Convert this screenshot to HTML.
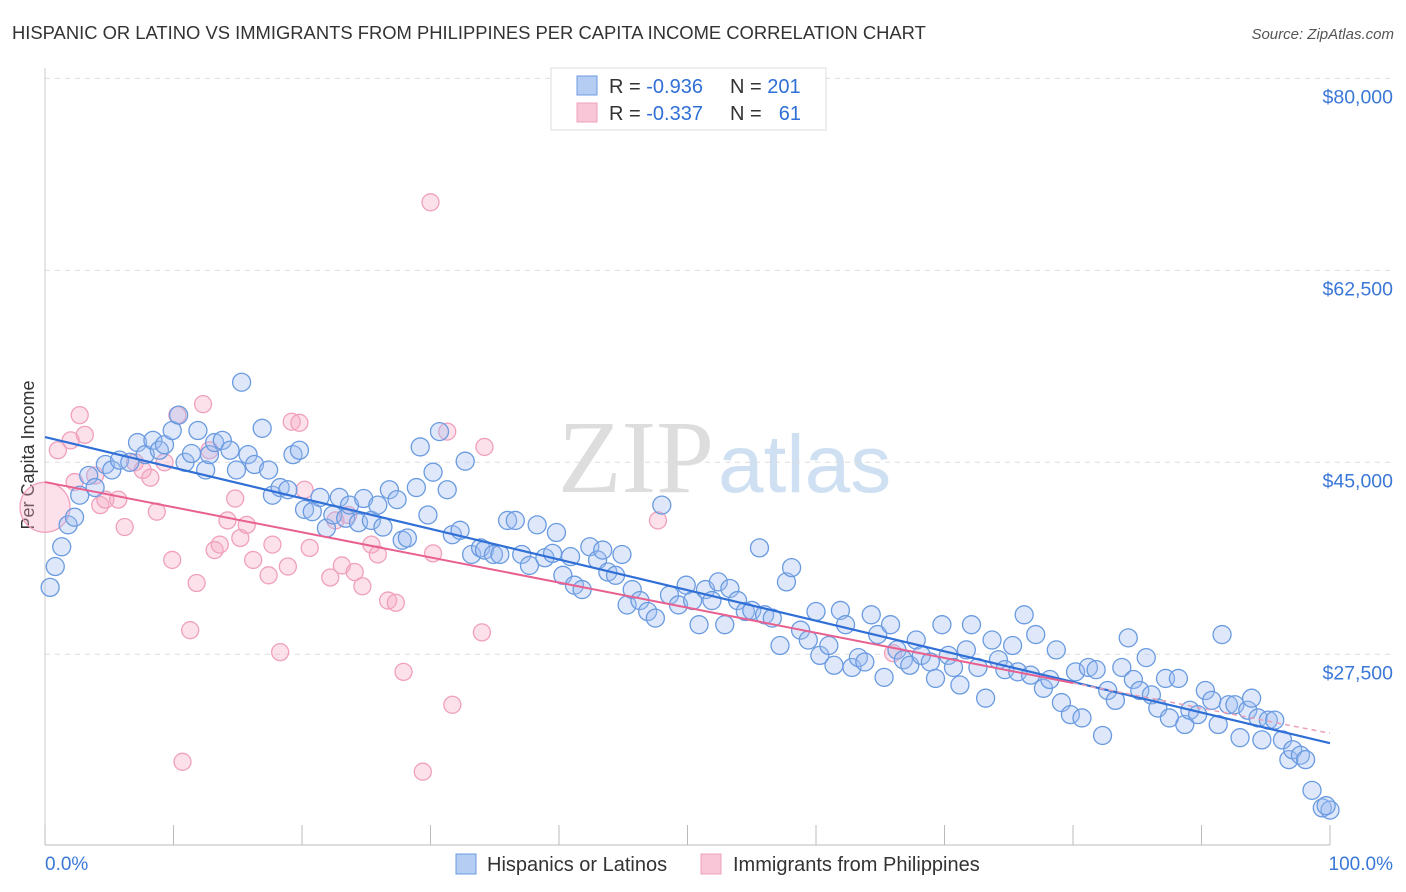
<!DOCTYPE html>
<html><head><meta charset="utf-8"><style>
body{margin:0;background:#fff;font-family:"Liberation Sans",sans-serif;}
#wrap{position:relative;width:1406px;height:892px;overflow:hidden}
</style></head><body><div id="wrap">
<svg id="svg" width="1406" height="892" xmlns="http://www.w3.org/2000/svg">
<text x="12" y="39" font-size="18.4" fill="#333">HISPANIC OR LATINO VS IMMIGRANTS FROM PHILIPPINES PER CAPITA INCOME CORRELATION CHART</text>
<text x="1394" y="39" font-size="15" fill="#555" font-style="italic" text-anchor="end">Source: ZipAtlas.com</text>
<text x="34" y="455" font-size="18" fill="#333" text-anchor="middle" transform="rotate(-90 34 455)">Per Capita Income</text>
<text x="714" y="492" font-size="104" fill="#ddd" text-anchor="end" font-family="Liberation Serif,serif">ZIP</text>
<text x="718" y="492" font-size="82" fill="#cfe0f3">atlas</text>
<g id="grid"></g><g id="axes"></g><g id="pts"></g><g id="lines"></g>
<g>
<rect x="551" y="68" width="275" height="62" fill="#fff" stroke="#ddd"/>
<rect x="577" y="76" width="20" height="19" fill="#b5cdf3" stroke="#6a9be0"/>
<rect x="577" y="103" width="20" height="19" fill="#f8c6d6" stroke="#f0a0bd"/>
<text x="609" y="93" font-size="20" fill="#333">R = <tspan fill="#2f6fd6">-0.936</tspan></text>
<text x="730" y="93" font-size="20" fill="#333">N = <tspan fill="#2f6fd6">201</tspan></text>
<text x="609" y="120" font-size="20" fill="#333">R = <tspan fill="#2f6fd6">-0.337</tspan></text>
<text x="730" y="120" font-size="20" fill="#333">N =</text>
<text x="801" y="120" font-size="20" fill="#2f6fd6" text-anchor="end">61</text>
</g>
<text x="45" y="870" font-size="19" fill="#3a78d8">0.0%</text>
<text x="1393" y="870" font-size="19" fill="#3a78d8" text-anchor="end">100.0%</text>
<g>
<rect x="456" y="854" width="20" height="20" fill="#b5cdf3" stroke="#6a9be0"/>
<text x="487" y="871" font-size="20" fill="#333">Hispanics or Latinos</text>
<rect x="701" y="854" width="20" height="20" fill="#f8c6d6" stroke="#f0a0bd"/>
<text x="733" y="871" font-size="20" fill="#333">Immigrants from Philippines</text>
</g>
</svg></div>
<script>
const yTicks=[80000,62500,45000,27500];
const yTickLabels=["$80,000","$62,500","$45,000","$27,500"];
const blueX=[0.4,0.8,1.3,1.8,2.3,2.7,3.4,3.9,4.7,5.2,5.8,6.6,7.2,7.8,8.4,8.9,9.3,9.9,10.4,10.9,11.4,11.9,12.5,12.8,13.2,13.8,14.4,14.9,15.3,15.8,16.3,16.9,17.4,17.7,18.3,18.9,19.3,19.8,20.2,20.8,21.4,21.9,22.4,22.9,23.4,23.7,24.4,24.8,25.4,25.9,26.3,26.8,27.4,27.8,28.2,28.9,29.2,29.8,30.2,30.7,31.3,31.7,32.3,32.7,33.2,33.9,34.2,34.9,35.4,36.0,36.6,37.1,37.7,38.3,38.9,39.5,39.8,40.3,40.9,41.2,41.8,42.4,43.0,43.4,43.8,44.4,44.9,45.3,45.7,46.3,46.9,47.5,48.0,48.6,49.3,49.9,50.4,50.9,51.4,51.9,52.4,52.9,53.3,53.9,54.5,55.0,55.6,56.0,56.6,57.2,57.7,58.1,58.8,59.4,60.0,60.3,61.0,61.4,61.9,62.3,62.8,63.3,63.8,64.3,64.8,65.3,65.8,66.3,66.8,67.3,67.8,68.2,68.9,69.3,69.8,70.3,70.7,71.2,71.7,72.1,72.6,73.2,73.7,74.2,74.7,75.3,75.7,76.2,76.7,77.1,77.7,78.2,78.7,79.1,79.8,80.2,80.7,81.2,81.8,82.3,82.7,83.3,83.8,84.3,84.7,85.2,85.7,86.1,86.6,87.2,87.5,88.2,88.7,89.1,89.7,90.3,90.8,91.3,91.6,92.1,92.6,93.0,93.6,93.9,94.4,94.7,95.2,95.7,96.3,96.8,97.1,97.7,98.1,98.6,99.4,100.0,99.7];
const blueY=[33.6,35.5,37.3,39.3,40.0,42.0,43.8,42.7,44.8,44.3,45.2,45.0,46.8,45.7,47.0,46.1,46.6,47.9,49.3,45.0,45.8,47.9,44.3,45.7,46.8,47.0,46.1,44.3,52.3,45.7,44.8,48.1,44.3,42.0,42.7,42.5,45.7,46.1,40.7,40.5,41.8,39.0,40.2,41.8,39.9,41.1,39.5,41.7,39.7,41.1,39.1,42.5,41.6,37.9,38.1,42.7,46.4,40.2,44.1,47.8,42.5,38.4,38.8,45.1,36.6,37.2,37.0,36.6,36.6,39.7,39.7,36.6,35.6,39.3,36.3,36.7,38.6,34.7,36.4,33.8,33.4,37.3,36.1,37.0,35.0,34.7,36.6,32.0,33.4,32.4,31.4,30.8,41.1,32.9,32.0,33.8,32.4,30.2,33.4,32.4,34.1,30.2,33.5,32.4,31.4,31.5,37.2,31.1,30.8,28.3,34.1,35.4,29.7,28.8,31.4,27.4,28.3,26.5,31.5,30.2,26.3,27.2,26.8,31.1,29.3,25.4,30.2,27.9,27.0,26.5,28.8,27.4,26.8,25.3,30.2,27.4,26.3,24.7,27.9,30.2,26.3,23.5,28.8,27.0,26.1,28.3,25.9,31.1,25.6,29.3,24.4,25.2,27.9,23.1,22.0,25.9,21.7,26.3,26.1,20.1,24.2,23.3,26.3,29.0,25.2,24.2,27.2,23.8,22.6,25.3,21.7,25.3,21.1,22.4,22.0,24.2,23.3,21.1,29.3,22.9,22.9,19.9,22.4,23.5,21.7,19.7,21.5,21.5,19.7,17.9,18.8,18.3,17.9,15.1,13.5,13.3,13.7];
const pinkX=[0.0,1.0,2.0,2.7,3.1,2.3,3.9,4.3,4.7,5.7,6.2,7.0,7.6,8.2,8.7,9.3,9.9,10.3,10.7,11.3,11.8,12.3,12.8,13.2,13.6,14.2,14.8,15.2,15.7,16.2,17.4,17.7,18.3,18.9,19.2,19.8,20.2,20.6,22.2,22.6,23.1,23.6,24.1,24.7,25.4,25.9,26.7,27.3,27.9,29.4,30.0,30.2,31.3,31.7,34.0,34.2,47.7,66.0];
const pinkY=[40.9,46.1,47.0,49.3,47.5,43.2,43.8,41.1,41.6,41.6,39.1,45.0,44.3,43.6,40.5,45.0,36.1,49.3,17.7,29.7,34.0,50.3,46.1,37.0,37.5,39.7,41.7,38.1,39.3,36.1,34.7,37.5,27.7,35.5,48.7,48.6,42.5,37.2,34.5,39.7,35.6,40.2,35.0,33.7,37.5,36.6,32.4,32.2,25.9,16.8,68.7,36.7,47.8,22.9,29.5,46.4,39.7,27.6];
// trend line (intercept in $k at 0%, slope in $k per %) as published with the chart
const blueTrend=[47.3,-0.279];
const pinkTrend=[43.2,-0.229];
const NS="http://www.w3.org/2000/svg";
const X=v=>45+v*12.85, Y=v=>956-v*1000/91.15;
function mk(t,a,p){const e=document.createElementNS(NS,t);for(const k in a)e.setAttribute(k,a[k]);p.appendChild(e);return e;}
const grid=document.getElementById('grid'),axes=document.getElementById('axes'),pts=document.getElementById('pts'),lines=document.getElementById('lines');
yTicks.forEach((t,i)=>{const y=Y(t/1000);
const l=mk('line',{x1:45,x2:1393,y1:y,y2:y,stroke:'#ddd','stroke-dasharray':'5,5'},grid);


const tx=mk('text',{x:1393,y:y+25,'font-size':19.5,fill:'#3a78d8','text-anchor':'end'},grid);tx.textContent=yTickLabels[i];

});
const ya=mk('line',{x1:45,x2:45,y1:68,y2:845,stroke:'#ccc'},axes);


const xa=mk('line',{x1:45,x2:1330,y1:845,y2:845,stroke:'#bbb'},axes);


for(let i=0;i<=10;i++){const t=mk('line',{x1:X(i*10),x2:X(i*10),y1:825,y2:845,stroke:'#bbb'},axes);

}
pinkX.forEach((x,i)=>{const c=mk('circle',{cx:X(x),cy:Y(pinkY[i]),r:i==0?25:8.5,fill:'rgba(245,170,195,0.35)',stroke:'#f0a0bd','stroke-width':1.3},pts);

});
blueX.forEach((x,i)=>{const c=mk('circle',{cx:X(x),cy:Y(blueY[i]),r:9,fill:'rgba(160,190,240,0.35)',stroke:'#6a9be0','stroke-width':1.3},pts);

});
const [ba,bb]=blueTrend;
const bl=mk('line',{x1:X(0),y1:Y(ba),x2:X(100),y2:Y(ba+bb*100),stroke:'#2f6fd6','stroke-width':2.2},lines);


const [pa,pb]=pinkTrend;
const pl=mk('line',{x1:X(0),y1:Y(pa),x2:X(80),y2:Y(pa+pb*80),stroke:'#e8608f','stroke-width':2},lines);


const pd=mk('line',{x1:X(80),y1:Y(pa+pb*80),x2:X(100),y2:Y(pa+pb*100),stroke:'#e8a0b8','stroke-width':1.5,'stroke-dasharray':'5,4'},lines);


</script></body></html>
